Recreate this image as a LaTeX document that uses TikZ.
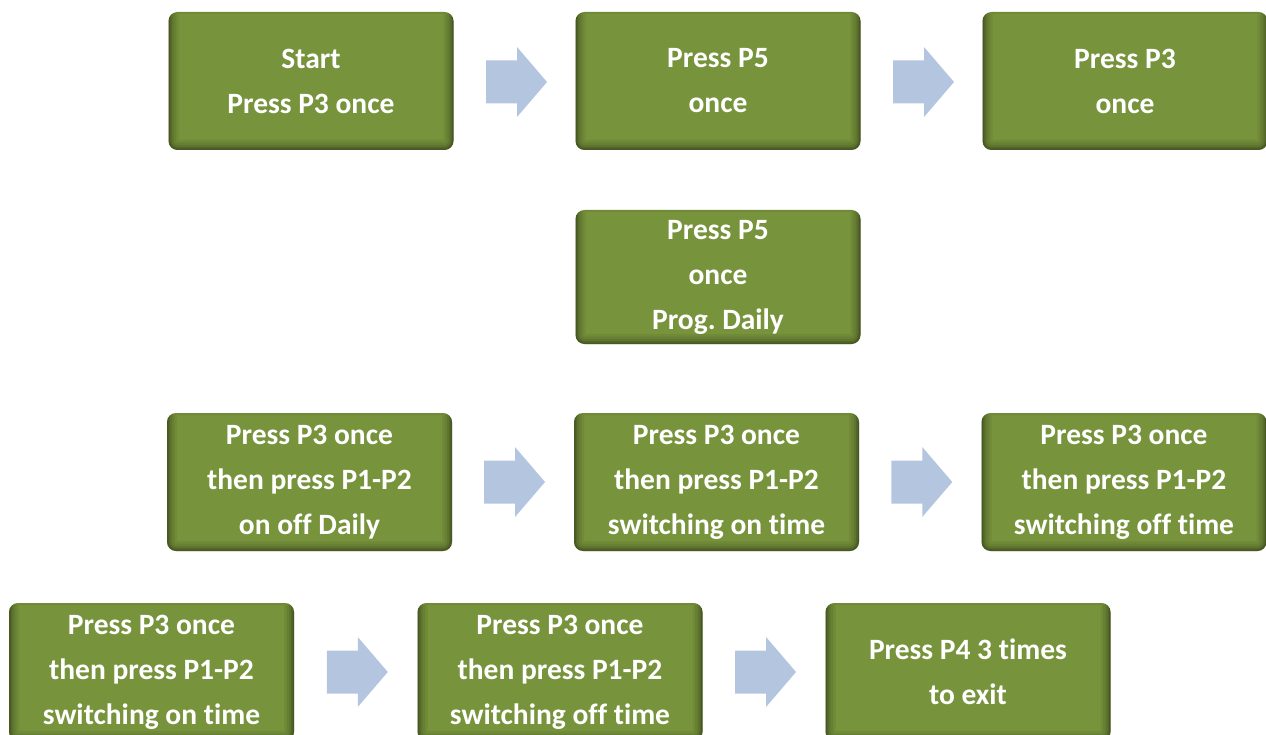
\documentclass[tikz,border=0pt]{standalone}
\usepackage{fontspec}
\setmainfont{Carlito}[Ligatures=NoCommon]
\usetikzlibrary{calc}
\frenchspacing
\definecolor{boxgreen}{HTML}{77933C}
\definecolor{arrowblue}{HTML}{B4C5E0}
\tikzset{
  gbox/.style={fill=boxgreen, rounded corners=9pt, minimum width=285pt,
    minimum height=138pt, inner sep=0pt, align=center, text=white,
    font=\fontsize{29.5}{45}\selectfont\bfseries,
    path picture={
      \foreach \w/\o in {20/0.06,15/0.07,10/0.09,6/0.11,3/0.14}{
        \draw[black, opacity=\o, line width=\w pt, rounded corners=9pt]
          ($(path picture bounding box.south west)+(0pt,0pt)$) rectangle
          ($(path picture bounding box.north east)+(0pt,8pt)$);
      }
    }},
  barrowfill/.style={fill=arrowblue}
}
\newcommand\blockarrow[1]{%
  \fill[barrowfill] ($#1+(-30.5pt,-21.5pt)$) -- ($#1+(0.5pt,-21.5pt)$) --
    ($#1+(0.5pt,-35pt)$) -- ($#1+(30.5pt,0pt)$) -- ($#1+(0.5pt,35pt)$) --
    ($#1+(0.5pt,21.5pt)$) -- ($#1+(-30.5pt,21.5pt)$) -- cycle;}
\begin{document}
\begin{tikzpicture}[x=1pt,y=-1pt]
\useasboundingbox (0,0) rectangle (1266,735);
\clip (0,0) rectangle (1266,735);
% row 1
\node[gbox] (b1) at (311,81) {Start\\Press P3 once};
\node[gbox] (b2) at (718,81) {Press P5\\once};
\node[gbox] (b3) at (1125,81) {Press P3\\once};
% row 2
\node[gbox, minimum height=134pt] (b4) at (718,277) {Press P5\\once\\Prog.\ Daily};
% row 3
\node[gbox] (b5) at (309.5,482) {Press P3 once\\then press P1-P2\\on off Daily};
\node[gbox] (b6) at (716.5,482) {Press P3 once\\then press P1-P2\\switching on time};
\node[gbox] (b7) at (1124,482) {Press P3 once\\then press P1-P2\\switching off time};
% row 4
\node[gbox] (b8) at (151.5,672) {Press P3 once\\then press P1-P2\\switching on time};
\node[gbox] (b9) at (560,672) {Press P3 once\\then press P1-P2\\switching off time};
\node[gbox] (b10) at (968,672) {Press P4 3 times\\to exit};
% arrows
\coordinate (m12) at ($($(b1.east)!0.5!(b2.west)$)+(2pt,-1pt)$);
\coordinate (m23) at ($($(b2.east)!0.5!(b3.west)$)+(2pt,-1pt)$);
\coordinate (m56) at ($($(b5.east)!0.5!(b6.west)$)+(1.5pt,0pt)$);
\coordinate (m67) at ($($(b6.east)!0.5!(b7.west)$)+(1.5pt,0pt)$);
\coordinate (m89) at ($($(b8.east)!0.5!(b9.west)$)+(1.5pt,0pt)$);
\coordinate (m910) at ($($(b9.east)!0.5!(b10.west)$)+(1.5pt,0pt)$);
\blockarrow{(m12)}
\blockarrow{(m23)}
\blockarrow{(m56)}
\blockarrow{(m67)}
\blockarrow{(m89)}
\blockarrow{(m910)}
\end{tikzpicture}
\end{document}
